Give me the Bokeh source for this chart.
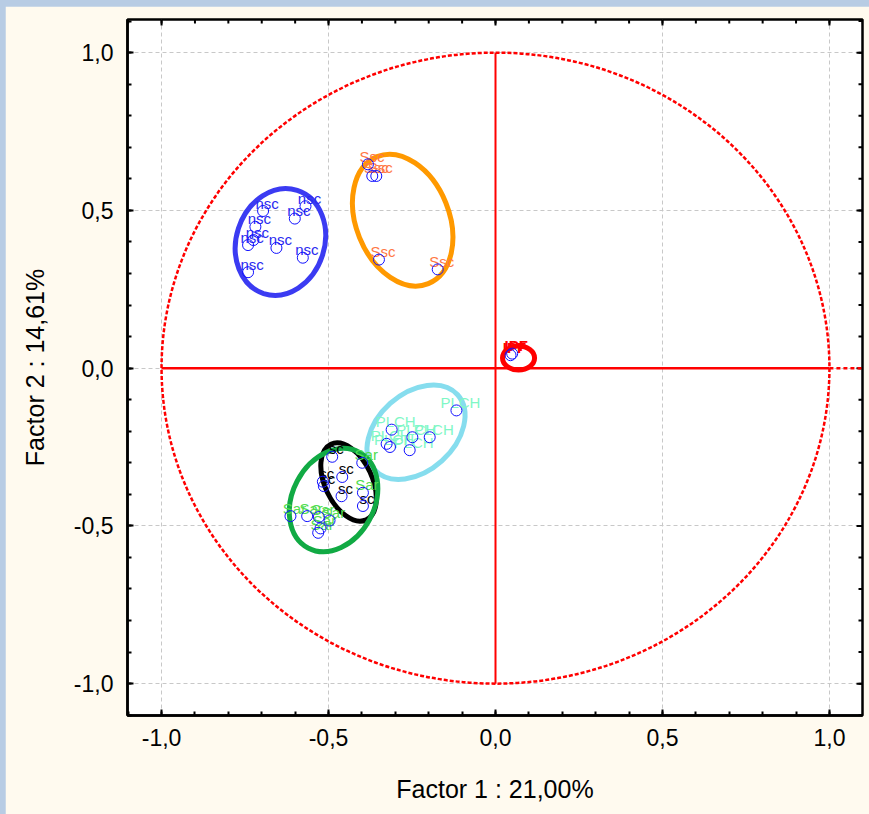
import numpy as np
from bokeh.plotting import figure
from bokeh.models import (LinearAxis, FixedTicker, CustomJSTickFormatter, ColumnDataSource)
from bokeh.layouts import column
from bokeh.core.properties import value
from bokeh.embed import file_html
from bokeh.resources import INLINE

# ---------------- data ----------------
nsc_x = [-0.569, -0.601, -0.696, -0.719, -0.725, -0.741, -0.656, -0.577, -0.741]
nsc_y = [0.513, 0.474, 0.498, 0.448, 0.406, 0.390, 0.381, 0.350, 0.304]

ssc_x = [-0.382, -0.369, -0.357, -0.349, -0.173]
ssc_y = [0.646, 0.609, 0.609, 0.344, 0.313]

ipf_x = [0.050, 0.045]
ipf_y = [0.046, 0.041]

plch_x = [-0.117, -0.311, -0.249, -0.197, -0.326, -0.316, -0.257]
plch_y = [-0.134, -0.195, -0.219, -0.219, -0.240, -0.250, -0.260]

sar_x = [-0.399, -0.397, -0.614, -0.564, -0.529, -0.497, -0.524, -0.531]
sar_y = [-0.300, -0.395, -0.469, -0.469, -0.472, -0.483, -0.508, -0.522]

sc_x = [-0.489, -0.517, -0.514, -0.459, -0.461, -0.397]
sc_y = [-0.281, -0.360, -0.374, -0.345, -0.406, -0.437]

groups = ["nsc", "Ssc", "IPF", "PLCH", "Sar", "sc"]
label_colors = ["#2A2AF0", "#FF7744", "#FF0000", "#7FF7C6", "#50DC50", "#000000"]

# group ellipses: center x, center y, major (data), minor (data), angle (deg)
ell_groups = ["nsc", "Ssc", "IPF", "PLCH", "sc", "Sar"]
ell_cx = [-0.644, -0.278, 0.069, -0.238, -0.440, -0.485]
ell_cy = [0.400, 0.469, 0.032, -0.203, -0.361, -0.418]
ell_w = [0.325, 0.41, 0.096, 0.335, 0.25, 0.325]
ell_h = [0.28, 0.295, 0.076, 0.245, 0.15, 0.26]
ell_ang = [72, 112, 0, 42, 115, 62]
ell_colors = ["#3B3BF2", "#FF9900", "#FF0000", "#86DDEE", "#000000", "#11AA44"]

x_title = "Factor 1 : 21,00%"
y_title = "Factor 2 : 14,61%"
major_ticks = [-1.0, -0.5, 0.0, 0.5, 1.0]
minor_ticks = [round(-1.1 + 0.1 * i, 1) for i in range(23)]

FONT = "Liberation Sans"
XR = (-1.102, 1.099)
YR = (-1.101, 1.105)

# ---------------- figure ----------------
p = figure(width=864, height=808, x_range=XR, y_range=YR,
           output_backend="svg", toolbar_location=None,
           x_axis_location=None, y_axis_location=None,
           min_border_left=122, min_border_right=7, min_border_top=13, min_border_bottom=99)
p.background_fill_color = "white"
p.border_fill_color = "#FFFAEF"
p.outline_line_color = "black"
p.outline_line_width = 2.5

ticker = FixedTicker(ticks=major_ticks, minor_ticks=minor_ticks)
fmt = CustomJSTickFormatter(code="return tick.toFixed(1).replace('.', ',');")

def style_axis(ax):
    ax.ticker = ticker
    ax.formatter = fmt
    ax.axis_line_color = "black"
    ax.axis_line_width = 2.5
    ax.major_tick_in = 6
    ax.major_tick_out = 0
    ax.minor_tick_in = 4
    ax.minor_tick_out = 0
    ax.major_tick_line_width = 2
    ax.minor_tick_line_width = 2
    ax.major_tick_line_color = "black"
    ax.minor_tick_line_color = "black"
    ax.major_label_text_font = FONT
    ax.major_label_text_font_size = "23px"
    ax.major_label_text_color = "black"
    ax.axis_label_text_font = FONT
    ax.axis_label_text_font_size = "25px"
    ax.axis_label_text_font_style = "normal"
    ax.axis_label_text_color = "black"

xb = LinearAxis(axis_label=x_title)
style_axis(xb)
xb.major_label_standoff = 13
xb.axis_label_standoff = 26
p.add_layout(xb, "below")

yl = LinearAxis(axis_label=y_title)
style_axis(yl)
yl.major_label_standoff = 14
yl.axis_label_standoff = 22
p.add_layout(yl, "left")

# inward ticks along top and right frame edges (half of each dash is clipped by the frame)
p.scatter(x=minor_ticks, y=[YR[1]] * len(minor_ticks), marker="dash", angle=np.pi / 2,
          size=8, line_color="black", line_width=2)
p.scatter(x=major_ticks, y=[YR[1]] * len(major_ticks), marker="dash", angle=np.pi / 2,
          size=12, line_color="black", line_width=2)
p.scatter(x=[XR[1]] * len(minor_ticks), y=minor_ticks, marker="dash",
          size=8, line_color="black", line_width=2)
p.scatter(x=[XR[1]] * len(major_ticks), y=major_ticks, marker="dash",
          size=12, line_color="black", line_width=2)

p.xgrid.ticker = FixedTicker(ticks=[-1.0, -0.5, 0.5, 1.0])
p.ygrid.ticker = FixedTicker(ticks=[-1.0, -0.5, 0.0, 0.5, 1.0])
for g in (p.xgrid, p.ygrid):
    g.grid_line_color = "#C8C8C8"
    g.grid_line_dash = "4 3"
    g.grid_line_width = 1

# red unit circle and axes
p.ellipse(x=[0], y=[0], width=[2], height=[2], fill_color=None,
          line_color="#FF0000", line_width=2.5, line_dash="4 2")
p.segment(x0=[-1.0], y0=[0], x1=[1.0], y1=[0], line_color="#FF0000", line_width=2.5)
p.segment(x0=[1.0], y0=[0], x1=[1.1], y1=[0], line_color="#FF0000", line_width=2.5, line_dash="4 3")
p.segment(x0=[0], y0=[-1.0], x1=[0], y1=[1.0], line_color="#FF0000", line_width=2)

# group ellipses
esrc = ColumnDataSource(dict(x=ell_cx, y=ell_cy, w=ell_w, h=ell_h,
                             a=[np.deg2rad(a) for a in ell_ang], c=ell_colors))
p.ellipse(x="x", y="y", width="w", height="h", angle="a", source=esrc,
          fill_color=None, line_color="c", line_width=5)

# points and labels
all_x = [nsc_x, ssc_x, ipf_x, plch_x, sar_x, sc_x]
all_y = [nsc_y, ssc_y, ipf_y, plch_y, sar_y, sc_y]
for name, col, xs, ys in zip(groups, label_colors, all_x, all_y):
    p.text(x=xs, y=ys, text=[name] * len(xs), text_color=col,
           text_font=value(FONT), text_font_size="15px",
           text_font_style="bold" if name == "IPF" else "normal",
           text_align="center", text_baseline="alphabetic",
           x_offset=4, y_offset=-8)
for xs, ys in zip(all_x, all_y):
    p.scatter(x=xs, y=ys, size=11, marker="circle", fill_color=None,
              line_color="#1010FF", line_width=1)

lay = column(p, styles={"padding-left": "5px", "padding-top": "6px",
                        "background-color": "#B8CCE4"})

open("out.html", "w").write(file_html(lay, INLINE))
